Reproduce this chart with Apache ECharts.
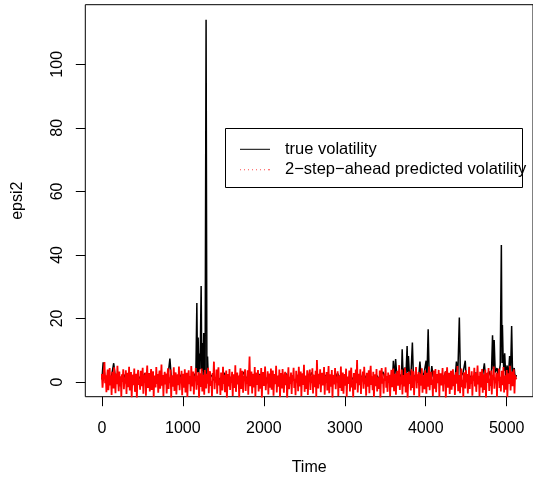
<!DOCTYPE html>
<html>
<head>
<meta charset="utf-8">
<script src="https://cdn.jsdelivr.net/npm/echarts@6/dist/echarts.min.js"></script>
<style>
html, body { margin: 0; padding: 0; background: #fff; }
#chart { width: 533px; height: 481px; }
</style>
</head>
<body>
<div id="chart"></div>
<script>
const FONT = "'Liberation Sans', Arial, sans-serif"

const xTicks = [0, 1000, 2000, 3000, 4000, 5000]
const yTicks = [0, 20, 40, 60, 80, 100]
const legendNames = ['true volatility', '2\u2212step\u2212ahead predicted volatility']

// true volatility: [time, epsi2]
const trueVol = [
  [0, 0.8], [16, 6.2], [40, 1.2], [80, 0.3], [120, 2.0], [146, 5.9], [170, 0.6], [210, 1.5], [250, 0.2], [290, 2.4],
  [330, 0.7], [370, 1.1], [410, 0.1], [450, 1.8], [490, 0.5], [530, 2.7], [570, 0.4], [610, 1.3], [650, 0.2], [690, 2.1],
  [730, 0.6], [770, 1.0], [810, 0.3], [840, 7.4], [860, 0.5], [900, 1.6], [940, 0.2], [980, 2.3], [1020, 0.8], [1060, 1.4],
  [1100, 0.3], [1140, 2.6], [1160, 1.0], [1173, 24.9], [1181, 3.0], [1189, 14.0], [1197, 2.5], [1205, 9.0], [1213, 4.0], [1226, 30.2],
  [1234, 3.5], [1242, 12.3], [1250, 2.0], [1258, 15.4], [1266, 4.5], [1275, 1.2], [1287, 114], [1297, 2.0], [1305, 8.0], [1315, 0.8],
  [1350, 2.2], [1390, 0.4], [1430, 1.6], [1470, 0.3], [1510, 2.9], [1550, 0.7], [1590, 1.2], [1630, 0.2], [1670, 2.0], [1710, 0.5],
  [1750, 3.1], [1790, 0.9], [1830, 0.2], [1870, 1.7], [1910, 0.4], [1950, 2.5], [1990, 0.8], [2030, 1.3], [2070, 0.1], [2110, 2.2],
  [2150, 0.6], [2190, 1.9], [2230, 0.3], [2270, 2.8], [2310, 0.7], [2350, 1.1], [2390, 0.2], [2430, 2.4], [2470, 0.5], [2510, 1.6],
  [2550, 0.3], [2590, 3.0], [2630, 0.8], [2670, 1.2], [2710, 0.1], [2750, 2.3], [2790, 0.6], [2830, 1.8], [2870, 0.4], [2910, 2.7],
  [2950, 0.9], [2990, 1.4], [3030, 0.2], [3070, 2.0], [3110, 0.5], [3150, 1.7], [3190, 0.3], [3230, 2.9], [3270, 0.7], [3310, 1.5],
  [3350, 0.2], [3390, 2.2], [3430, 0.8], [3470, 3.2], [3510, 0.4], [3550, 1.9], [3590, 0.6], [3600, 6.7], [3614, 1.2], [3628, 7.2],
  [3645, 0.9], [3680, 2.4], [3700, 0.8], [3709, 10.3], [3720, 2.0], [3740, 4.5], [3755, 1.5], [3770, 11.3], [3778, 3.0], [3786, 8.2],
  [3800, 1.4], [3820, 3.8], [3835, 12.4], [3848, 1.0], [3880, 2.6], [3910, 0.5], [3928, 6.4], [3945, 1.1], [3980, 2.9], [4005, 6.7],
  [4015, 1.5], [4030, 16.6], [4042, 2.2], [4060, 0.7], [4075, 5.0], [4090, 1.8], [4130, 0.4], [4170, 2.5], [4210, 0.9], [4250, 3.3],
  [4290, 0.6], [4330, 1.9], [4360, 0.3], [4379, 6.4], [4395, 1.2], [4415, 20.3], [4428, 1.5], [4460, 2.8], [4488, 6.7], [4500, 0.6],
  [4540, 2.1], [4580, 0.4], [4620, 3.0], [4660, 0.8], [4700, 1.6], [4724, 5.9], [4740, 0.9], [4780, 3.4], [4810, 1.1], [4825, 14.7],
  [4835, 4.0], [4845, 13.2], [4858, 3.0], [4880, 4.4], [4900, 1.5], [4920, 5.5], [4934, 43.1], [4942, 6.0], [4947, 17.9], [4955, 8.4],
  [4965, 3.5], [4975, 9.0], [4988, 2.0], [5005, 5.2], [5020, 1.6], [5036, 8.2], [5048, 3.0], [5061, 17.6], [5072, 2.4], [5093, 4.4],
  [5105, 1.0], [5120, 2.2]
]

// 2-step-ahead prediction, one value every 8 time steps
const predStep = 8
const predVol = [
  2.5, -1.8, 0.9, 3.6, 6.3, -0.4, 2.1, -3.2, 1.5, 3.9, -2.6, 0.6, 4.4, -1.1, 2.0, -4.1, 3.2, 0.3, -2.0, 4.6,
  1.0, -3.5, 2.7, -0.7, 5.1, 0.4, -2.9, 3.3, -1.4, 1.8, -4.6, 2.4, 0.1, 4.0, -2.3, 1.2, -0.5, 3.7, -3.8, 2.9,
  0.6, -1.6, 4.8, -2.7, 1.4, 3.1, -4.9, 0.8, 2.3, -1.0, 4.2, -3.1, 0.2, 2.6, -5.3, 1.9, 3.8, -0.9, 0.7, -2.4,
  3.5, -1.3, 1.1, 4.5, -3.7, 2.2, -0.2, 3.0, -4.3, 1.6, 5.2, -1.9, 0.5, 2.8, -3.0, 1.3, 4.1, -2.5, 0.0, 3.4,
  -4.8, 2.0, 0.9, -1.7, 4.7, -0.6, 2.5, -3.4, 1.7, 3.6, -2.1, 0.4, 5.5, -1.2, 2.2, -4.4, 1.0, 3.2, -0.8, 2.7,
  -3.6, 0.7, 4.3, -2.2, 1.5, -0.3, 3.9, -5.0, 2.1, 0.5, -1.5, 4.6, -2.8, 1.8, 3.0, -3.9, 0.3, 2.4, -1.0, 4.9,
  -2.6, 1.2, -0.4, 3.5, -4.2, 2.6, 0.8, -1.8, 4.0, -3.3, 1.4, 2.9, -4.7, 0.9, 3.7, -0.7, 1.9, -2.9, 5.0, 0.2,
  -1.4, 3.3, -3.9, 1.6, 0.4, 4.4, -2.4, 2.0, -0.9, 3.1, -5.1, 1.1, 2.7, -1.6, 4.2, -3.0, 0.6, 2.3, -4.0, 3.8,
  0.9, -2.0, 2.6, -0.5, 4.5, -3.5, 1.7, 3.4, -1.2, 0.3, -4.5, 2.8, 1.0, 6.4, -2.3, 1.5, -0.2, 3.9, -3.7, 2.1,
  4.6, -1.1, 0.8, -4.1, 3.0, 1.3, -2.7, 4.8, -0.6, 2.2, -3.2, 1.0, 3.6, -5.2, 0.5, 2.5, -1.4, 4.1, -2.5, 1.7,
  -0.3, 3.2, -4.4, 2.4, 0.6, -1.9, 5.3, -3.1, 1.2, 3.0, -0.8, 2.0, -4.9, 1.6, 4.3, -2.2, 0.1, 3.5, -3.4, 1.9,
  0.7, 4.0, -2.8, 1.4, -0.5, 3.7, -4.0, 2.1, 8.0, -1.3, 0.9, 3.3, -3.6, 2.6, 0.2, -1.7, 4.7, -4.6, 1.8, 2.9,
  -0.9, 3.8, -3.0, 0.4, 2.3, -2.1, 4.4, -5.0, 1.5, 3.1, -1.2, 0.8, 4.9, -2.6, 1.1, -0.4, 3.4, -3.9, 2.7, 0.5,
  -1.8, 4.2, -2.4, 1.7, 3.6, -4.3, 0.6, 2.5, -0.7, 5.1, -3.3, 1.3, 2.0, -1.5, 3.9, -4.8, 0.9, 2.8, -2.0, 4.1,
  0.3, -3.4, 1.9, 3.2, -1.0, 2.4, -5.4, 0.7, 4.6, -2.3, 1.6, -0.6, 3.0, -3.8, 2.2, 0.4, 4.5, -1.9, 1.0, -4.2,
  3.5, -0.2, 2.1, -2.9, 4.8, 0.5, -1.4, 3.3, -4.5, 1.4, 2.7, -0.9, 5.4, -3.1, 0.8, 2.0, -2.2, 3.7, -4.1, 1.2,
  0.6, 3.9, -2.5, 1.8, -0.4, 4.3, -3.6, 2.3, 0.1, -1.6, 3.5, -4.7, 6.9, 0.9, -2.0, 2.6, -0.7, 4.0, -3.2, 1.5,
  2.9, -1.1, 0.4, 4.7, -4.0, 1.9, -0.3, 3.1, -2.7, 1.1, 5.0, -3.5, 0.7, 2.4, -1.5, 3.8, -5.1, 1.3, 2.2, -0.8,
  4.4, -2.3, 1.6, -0.1, 3.4, -4.4, 2.0, 0.6, -1.9, 4.9, -2.8, 1.2, 3.0, -3.7, 0.3, 2.5, -1.2, 4.2, -4.6, 1.7,
  0.9, -0.6, 3.6, -3.0, 2.2, 4.5, -1.7, 0.5, -4.9, 2.8, 1.4, -2.4, 3.9, -0.4, 6.9, -3.3, 1.0, 2.6, -1.0, 4.0,
  -3.8, 1.7, 0.2, 3.3, -2.1, 4.8, -0.7, 1.3, -4.3, 2.9, 0.6, -1.5, 3.7, -3.5, 2.1, 5.1, -0.9, 1.8, -2.6, 3.2,
  -4.7, 0.8, 2.4, -1.3, 4.1, -3.0, 1.5, 0.3, -2.2, 3.6, -5.0, 2.0, 4.4, -0.5, 1.1, -3.6, 2.7, 0.4, 4.6, -1.8,
  1.9, -3.1, 3.0, -0.2, 2.3, -4.5, 0.7, 3.8, -1.6, 1.0, 4.2, -2.9, 0.5, 2.6, -4.0, 1.4, 3.5, -1.1, 0.0, 5.3,
  -2.5, 1.6, -0.8, 3.9, -3.9, 2.2, 0.9, -1.4, 4.5, -3.3, 1.2, 2.8, -5.2, 0.6, 3.3, -0.6, 1.9, -2.7, 4.0, 0.2,
  -1.9, 3.4, -4.2, 1.8, 0.5, 4.7, -2.0, 2.4, -0.3, 3.1, -4.8, 1.1, 2.6, -1.2, 4.3, -3.4, 0.8, 2.1, -2.3, 3.7,
  0.4, -3.7, 2.9, 1.0, -1.5, 4.9, -2.6, 1.5, 3.2, -0.9, 0.7, -4.4, 3.6, 1.3, -2.1, 4.1, -3.2, 0.9, 2.5, -0.4,
  3.8, -4.6, 1.7, 2.7, -1.1, 0.3, 4.4, -3.0, 2.0, -0.7, 3.3, -5.0, 1.4, 4.6, -1.8, 0.6, 2.9, -3.8, 1.2, 3.5,
  -2.4, 0.8, 4.0, -1.3, 2.3, -4.1, 1.6, 3.1, -0.5, 5.0, -2.9, 0.4, 2.2, -3.5, 1.8, 4.2, -1.6, 0.7, -4.7, 3.0,
  1.1, -2.0, 3.7, -0.1, 2.5, -3.6, 0.9, 4.8, -2.2, 1.5, -0.6, 3.4, -4.3, 2.0, 0.5, 4.5, -1.4, 2.8, -3.1, 1.3,
  5.2, -0.8, 1.9, -4.5, 3.2, 0.6, -1.7, 4.1, -3.4, 2.4, 0.2, -2.5, 3.9, -5.3, 1.7, 2.9, -0.3, 4.4, -2.8, 1.0,
  -1.2, 3.6, -3.9, 2.3, 0.8, 4.9, -2.1, 1.4, -0.4, 3.0, -4.6, 2.6, 0.3, 4.2, -1.9, 1.6, -3.0, 3.5, 0.7, -1.0,
  4.7, -3.3, 2.0, 0.5, -2.4, 3.8, -4.8, 1.2, 2.7, -0.6, 5.1, -2.7, 1.5, 3.3, -1.3, 0.4, 4.0, -3.6, 2.2, 0.9,
  1.4
]

const chart = echarts.init(document.getElementById('chart'))

// legend keys: a solid line and a dotted line, 30px long
const solidKey = 'path://M0,0H30V1H0Z'
const dottedKey = 'path://M0,0h1v1h-1zM4,0h1v1h-1zM8,0h1v1h-1zM12,0h1v1h-1zM16,0h1v1h-1zM20,0h1v1h-1zM24,0h1v1h-1zM28,0h1v1h-1zM29,0h1v1h-1z'

chart.setOption({
  animation: false,
  backgroundColor: '#fff',
  textStyle: { fontFamily: FONT },
  grid: {
    left: 85.3, top: 4.7, right: -6.5, bottom: 84.3,
    show: true, borderColor: '#000', borderWidth: 1, backgroundColor: 'transparent',
  },
  xAxis: {
    type: 'value',
    min: -204.8,
    max: 5324.8,
    name: 'Time',
    nameLocation: 'middle',
    nameGap: 63,
    nameTextStyle: { color: '#000', fontSize: 16, fontFamily: FONT },
    axisLine: { show: false, onZero: false },
    splitLine: { show: false },
    axisTick: { show: true, inside: false, length: 9.5, lineStyle: { color: '#000' }, customValues: xTicks },
    axisLabel: {
      color: '#000', fontSize: 16, margin: 24, fontFamily: FONT, customValues: xTicks,
      formatter: v => String(v),
    },
  },
  yAxis: {
    type: 'value',
    min: -4.63,
    max: 118.76,
    name: 'epsi2',
    nameLocation: 'middle',
    nameGap: 60,
    nameTextStyle: { color: '#000', fontSize: 16, fontFamily: FONT },
    axisLine: { show: false, onZero: false },
    splitLine: { show: false },
    axisTick: { show: true, inside: false, length: 9.5, lineStyle: { color: '#000' }, customValues: yTicks },
    axisLabel: {
      color: '#000', fontSize: 16, margin: 20, rotate: 90, fontFamily: FONT, customValues: yTicks,
      formatter: v => String(v),
    },
  },
  legend: {
    left: 240,
    top: 139.3,
    orient: 'vertical',
    padding: 0,
    itemWidth: 30,
    itemHeight: 1,
    itemGap: 0.4,
    textStyle: { color: '#000', fontSize: 16.5, lineHeight: 20, fontFamily: FONT, padding: [0, 0, 0, 10] },
    data: [
      { name: legendNames[0], icon: solidKey, itemStyle: { color: '#000' } },
      { name: legendNames[1], icon: dottedKey, itemStyle: { color: 'rgba(255,0,0,0.7)' } },
    ],
  },
  graphic: [{
    type: 'rect',
    z: 1,
    shape: { x: 225.5, y: 128.5, width: 297, height: 59 },
    style: { fill: '#fff', stroke: '#000', lineWidth: 1 },
  }],
  series: [
    {
      name: legendNames[0],
      type: 'line',
      symbol: 'none',
      data: trueVol,
      lineStyle: { color: '#000', width: 1.5 },
      itemStyle: { color: '#000' },
    },
    {
      name: legendNames[1],
      type: 'line',
      symbol: 'none',
      data: predVol.map((v, i) => [i * predStep, v]),
      lineStyle: { color: '#ff0000', width: 1.8 },
      itemStyle: { color: '#ff0000' },
    },
  ],
})
</script>
</body>
</html>
